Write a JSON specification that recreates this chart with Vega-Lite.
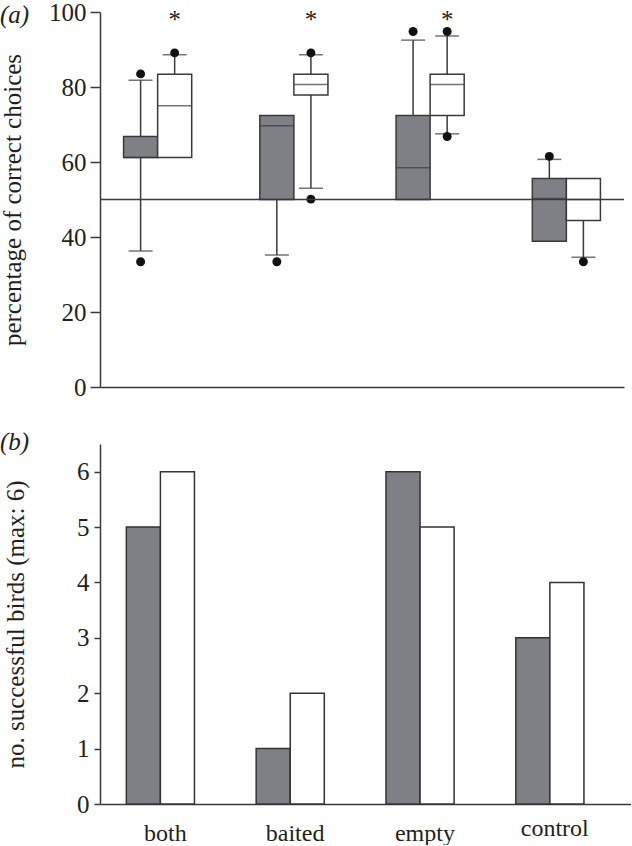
{
  "$schema": "https://vega.github.io/schema/vega-lite/v6.json",
  "padding": {"left": 0, "top": 0, "right": 0, "bottom": 0},
  "background": "white",
  "spacing": 30,
  "config": {
    "view": {"stroke": null},
    "font": "Liberation Serif",
    "axis": {
      "grid": false,
      "domainColor": "#3a3a3a",
      "tickColor": "#3a3a3a",
      "domainWidth": 1.5,
      "tickWidth": 1.5,
      "labelColor": "#231f20",
      "titleColor": "#231f20",
      "labelFontSize": 25,
      "titleFontSize": 25,
      "titleFontWeight": "normal",
      "labelFont": "Liberation Serif",
      "titleFont": "Liberation Serif"
    }
  },
  "datasets": {
    "boxes": [
      {"cond": "both", "grp": "gray", "q1": 61.2, "med": 61.2, "q3": 66.8},
      {"cond": "both", "grp": "white", "q1": 61.2, "med": 75.0, "q3": 83.4},
      {"cond": "baited", "grp": "gray", "q1": 50.0, "med": 69.7, "q3": 72.4},
      {"cond": "baited", "grp": "white", "q1": 77.9, "med": 80.7, "q3": 83.4},
      {"cond": "empty", "grp": "gray", "q1": 50.0, "med": 58.5, "q3": 72.4},
      {"cond": "empty", "grp": "white", "q1": 72.4, "med": 80.7, "q3": 83.4},
      {"cond": "control", "grp": "gray", "q1": 38.9, "med": 50.3, "q3": 55.6},
      {"cond": "control", "grp": "white", "q1": 44.4, "med": 50.0, "q3": 55.6}
    ],
    "whiskers": [
      {"cond": "both", "grp": "gray", "from": 66.8, "to": 81.8},
      {"cond": "both", "grp": "gray", "from": 61.2, "to": 36.3},
      {"cond": "both", "grp": "white", "from": 83.4, "to": 88.6},
      {"cond": "baited", "grp": "gray", "from": 50.0, "to": 35.2},
      {"cond": "baited", "grp": "white", "from": 83.4, "to": 88.6},
      {"cond": "baited", "grp": "white", "from": 77.9, "to": 53.0},
      {"cond": "empty", "grp": "gray", "from": 72.4, "to": 92.5},
      {"cond": "empty", "grp": "white", "from": 83.4, "to": 93.6},
      {"cond": "empty", "grp": "white", "from": 72.4, "to": 67.5},
      {"cond": "control", "grp": "gray", "from": 55.6, "to": 60.7},
      {"cond": "control", "grp": "white", "from": 44.4, "to": 34.6}
    ],
    "outliers": [
      {"cond": "both", "grp": "gray", "v": 83.5},
      {"cond": "both", "grp": "gray", "v": 33.4},
      {"cond": "both", "grp": "white", "v": 89.1},
      {"cond": "baited", "grp": "gray", "v": 33.4},
      {"cond": "baited", "grp": "white", "v": 89.1},
      {"cond": "baited", "grp": "white", "v": 50.1},
      {"cond": "empty", "grp": "gray", "v": 94.8},
      {"cond": "empty", "grp": "white", "v": 94.8},
      {"cond": "empty", "grp": "white", "v": 66.8},
      {"cond": "control", "grp": "gray", "v": 61.5},
      {"cond": "control", "grp": "white", "v": 33.4}
    ],
    "stars": [
      {"cond": "both", "grp": "white", "sig": "*"},
      {"cond": "baited", "grp": "white", "sig": "*"},
      {"cond": "empty", "grp": "white", "sig": "*"}
    ],
    "chance": [{"level": 50}],
    "bars": [
      {"cond": "both", "grp": "gray", "n": 5},
      {"cond": "both", "grp": "white", "n": 6},
      {"cond": "baited", "grp": "gray", "n": 1},
      {"cond": "baited", "grp": "white", "n": 2},
      {"cond": "empty", "grp": "gray", "n": 6},
      {"cond": "empty", "grp": "white", "n": 5},
      {"cond": "control", "grp": "gray", "n": 3},
      {"cond": "control", "grp": "white", "n": 4}
    ]
  },
  "vconcat": [
    {
      "width": 524,
      "height": 375,
      "title": {"text": "(a)", "anchor": "start", "frame": "group", "orient": "top", "offset": -48, "dx": -100, "fontSize": 25, "fontStyle": "italic", "fontWeight": "normal", "baseline": "alphabetic", "font": "Liberation Serif", "color": "#231f20"},
      "layer": [
        {
          "data": {"name": "boxes"},
          "mark": {"type": "bar", "stroke": "#3a3a3a", "strokeWidth": 1.5},
          "encoding": {
            "x": {"field": "cond", "type": "nominal", "sort": ["both", "baited", "empty", "control"], "scale": {"paddingInner": 0.5, "paddingOuter": 0.173, "align": 0.5}, "axis": {"labels": false, "ticks": false, "title": null}},
            "xOffset": {"field": "grp", "type": "nominal", "sort": ["gray", "white"], "scale": {"paddingInner": 0, "paddingOuter": 0}},
            "y": {"field": "q1", "type": "quantitative", "title": "percentage of correct choices", "scale": {"domain": [0, 100]}, "axis": {"values": [0, 20, 40, 60, 80, 100], "tickSize": 10, "labelPadding": 4, "titlePadding": 23}},
            "y2": {"field": "q3"},
            "color": {"field": "grp", "type": "nominal", "scale": {"domain": ["gray", "white"], "range": ["#7f8085", "#ffffff"]}, "legend": null}
          }
        },
        {
          "data": {"name": "boxes"},
          "mark": {"type": "tick", "orient": "horizontal", "size": 34, "thickness": 1.5, "color": "#3a3a3a"},
          "encoding": {
            "x": {"field": "cond", "type": "nominal", "sort": ["both", "baited", "empty", "control"]},
            "xOffset": {"field": "grp", "type": "nominal", "sort": ["gray", "white"]},
            "y": {"field": "med", "type": "quantitative", "title": "percentage of correct choices"}
          }
        },
        {
          "data": {"name": "whiskers"},
          "mark": {"type": "rule", "strokeWidth": 1.5, "color": "#3a3a3a"},
          "encoding": {
            "x": {"field": "cond", "type": "nominal", "sort": ["both", "baited", "empty", "control"]},
            "xOffset": {"field": "grp", "type": "nominal", "sort": ["gray", "white"]},
            "y": {"field": "from", "type": "quantitative", "title": "percentage of correct choices"},
            "y2": {"field": "to"}
          }
        },
        {
          "data": {"name": "whiskers"},
          "mark": {"type": "tick", "orient": "horizontal", "size": 24, "thickness": 1.5, "color": "#3a3a3a"},
          "encoding": {
            "x": {"field": "cond", "type": "nominal", "sort": ["both", "baited", "empty", "control"]},
            "xOffset": {"field": "grp", "type": "nominal", "sort": ["gray", "white"]},
            "y": {"field": "to", "type": "quantitative", "title": "percentage of correct choices"}
          }
        },
        {
          "data": {"name": "outliers"},
          "mark": {"type": "point", "filled": true, "size": 80, "color": "#111111", "opacity": 1},
          "encoding": {
            "x": {"field": "cond", "type": "nominal", "sort": ["both", "baited", "empty", "control"]},
            "xOffset": {"field": "grp", "type": "nominal", "sort": ["gray", "white"]},
            "y": {"field": "v", "type": "quantitative", "title": "percentage of correct choices"}
          }
        },
        {
          "data": {"name": "chance"},
          "mark": {"type": "rule", "strokeWidth": 1.5, "color": "#3a3a3a"},
          "encoding": {
            "y": {"field": "level", "type": "quantitative", "title": "percentage of correct choices"}
          }
        },
        {
          "data": {"name": "stars"},
          "mark": {"type": "text", "fontSize": 25, "baseline": "alphabetic", "font": "Liberation Serif", "color": "#231f20"},
          "encoding": {
            "x": {"field": "cond", "type": "nominal", "sort": ["both", "baited", "empty", "control"]},
            "xOffset": {"field": "grp", "type": "nominal", "sort": ["gray", "white"]},
            "y": {"datum": 95.7, "type": "quantitative"},
            "text": {"field": "sig"}
          }
        }
      ]
    },
    {
      "width": 531,
      "height": 360,
      "title": {"text": "(b)", "anchor": "start", "frame": "group", "orient": "top", "offset": -31, "dx": -100, "fontSize": 25, "fontStyle": "italic", "fontWeight": "normal", "baseline": "alphabetic", "font": "Liberation Serif", "color": "#231f20"},
      "data": {"name": "bars"},
      "mark": {"type": "bar", "stroke": "#333333", "strokeWidth": 1.5},
      "encoding": {
        "x": {"field": "cond", "type": "nominal", "sort": ["both", "baited", "empty", "control"], "scale": {"paddingInner": 0.4, "paddingOuter": 0.245, "align": 0.414}, "axis": {"title": null, "ticks": false, "labelAngle": 0, "labelFontSize": 24, "labelPadding": {"condition": {"test": "datum.value === 'control'", "value": 12}, "value": 17}}},
        "xOffset": {"field": "grp", "type": "nominal", "sort": ["gray", "white"], "scale": {"paddingInner": 0, "paddingOuter": 0}},
        "y": {"field": "n", "type": "quantitative", "title": "no. successful birds (max: 6)", "scale": {"domain": [0, 6.5]}, "axis": {"values": [0, 1, 2, 3, 4, 5, 6], "tickSize": 6, "labelPadding": 5, "titlePadding": 48}},
        "color": {"field": "grp", "type": "nominal", "scale": {"domain": ["gray", "white"], "range": ["#7f8085", "#ffffff"]}, "legend": null}
      }
    }
  ]
}
